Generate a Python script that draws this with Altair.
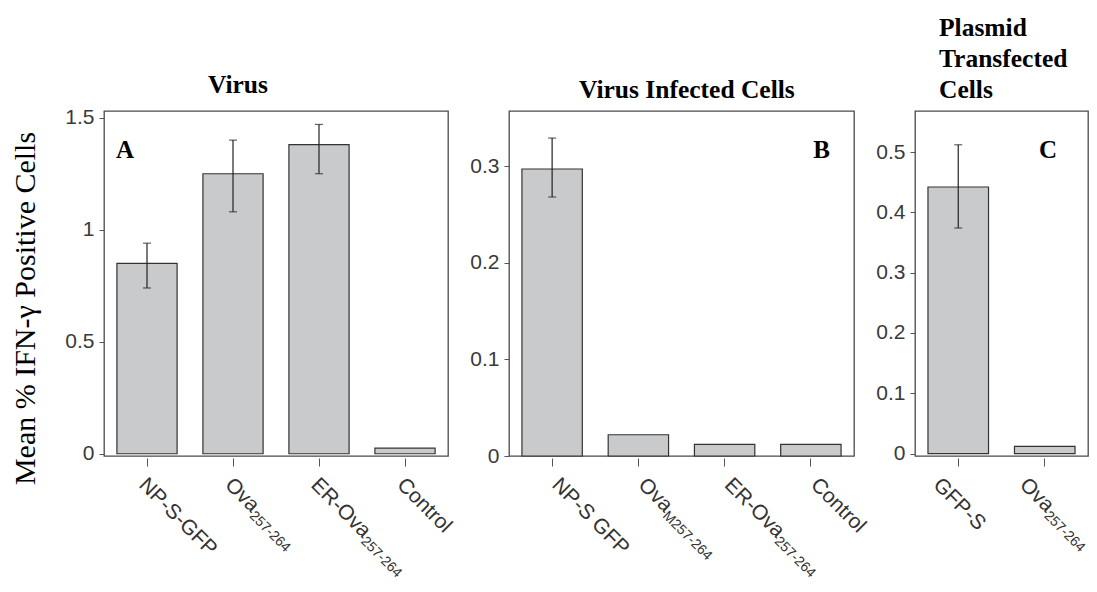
import altair as alt
import pandas as pd

# ---------------- data ----------------
# Panel A: Virus
a_cats = ["NP-S-GFP", "Ova257-264", "ER-Ova257-264", "Control"]
a_main = ["NP-S-GFP", "Ova", "ER-Ova", "Control"]
a_sub = ["", "257-264", "257-264", ""]
a_mean = [0.85, 1.25, 1.38, 0.025]
a_low = [0.74, 1.08, 1.25, None]
a_high = [0.94, 1.40, 1.47, None]

# Panel B: Virus Infected Cells
b_cats = ["NP-S GFP", "OvaM257-264", "ER-Ova257-264", "Control"]
b_main = ["NP-S GFP", "Ova", "ER-Ova", "Control"]
b_sub = ["", "M257-264", "257-264", ""]
b_mean = [0.297, 0.022, 0.012, 0.012]
b_low = [0.268, None, None, None]
b_high = [0.329, None, None, None]

# Panel C: Plasmid Transfected Cells
c_cats = ["GFP-S", "Ova257-264"]
c_main = ["GFP-S", "Ova"]
c_sub = ["", "257-264"]
c_mean = [0.442, 0.012]
c_low = [0.374, None]
c_high = [0.512, None]

a_ticks = [0, 0.5, 1, 1.5]
b_ticks = [0, 0.1, 0.2, 0.3]
c_ticks = [0, 0.1, 0.2, 0.3, 0.4, 0.5]

SERIF = "Liberation Serif"
SANS = "Liberation Sans"
BAR_FILL = "#c9cacc"
DARK = "#333333"
H = 345


def frame(cats, main, sub, mean, low, high):
    return pd.DataFrame({"cat": cats, "main": main, "sub": sub,
                         "mean": mean, "low": low, "high": high})


def panel(df, width, domain, ticks, title, letter, letter_x, letter_align,
          lab_xoff, lab_y, ytitle=None):
    base = alt.Chart(df)
    order = list(df["cat"])
    xenc = alt.X("cat:N", sort=order, title=None,
                 scale=alt.Scale(paddingInner=0.3, paddingOuter=0.15),
                 axis=alt.Axis(labels=False, domain=False, tickSize=8, offset=2,
                               tickColor="#555555", tickWidth=1))
    axis_kw = dict(values=ticks, labelExpr="'' + datum.value", grid=False,
                   domain=False, tickSize=5, tickColor="#555555",
                   labelFont=SANS, labelFontSize=21, labelColor="#3a3a3a",
                   labelPadding=5)
    if ytitle:
        axis_kw.update(title=ytitle, titleFont=SERIF, titleFontSize=30,
                       titleFontWeight="normal", titleColor="black",
                       titleX=-64, titleY=197)
    yenc = alt.Y("mean:Q", scale=alt.Scale(domain=domain, nice=False, zero=False),
                 axis=alt.Axis(**axis_kw), title=ytitle if ytitle else None)

    bars = base.mark_bar(fill=BAR_FILL, stroke=DARK, strokeWidth=1.2).encode(
        x=xenc, y=yenc, y2=alt.datum(0))
    err = base.transform_filter("isValid(datum.low)")
    rule = err.mark_rule(color="#222222", strokeWidth=1.2).encode(
        x=alt.X("cat:N", sort=order), y="low:Q", y2="high:Q")
    cap_lo = err.mark_tick(color="#222222", thickness=1.2, size=8).encode(
        x=alt.X("cat:N", sort=order), y="low:Q")
    cap_hi = err.mark_tick(color="#222222", thickness=1.2, size=8).encode(
        x=alt.X("cat:N", sort=order), y="high:Q")

    lab = base.mark_text(angle=45, align="left", baseline="top", font=SANS,
                         fontSize=21, color="#333333", xOffset=lab_xoff).encode(
        x=alt.X("cat:N", sort=order), y=alt.value(lab_y), text="main:N")
    sub_ova = base.transform_filter("datum.main == 'Ova'").mark_text(
        angle=45, align="left", baseline="top", font=SANS, fontSize=14,
        color="#333333", xOffset=lab_xoff, dx=39, dy=10).encode(
        x=alt.X("cat:N", sort=order), y=alt.value(lab_y), text="sub:N")
    sub_er = base.transform_filter("datum.main == 'ER-Ova'").mark_text(
        angle=45, align="left", baseline="top", font=SANS, fontSize=14,
        color="#333333", xOffset=lab_xoff, dx=75, dy=10).encode(
        x=alt.X("cat:N", sort=order), y=alt.value(lab_y), text="sub:N")

    let = alt.Chart(pd.DataFrame({"t": [letter]})).mark_text(
        font=SERIF, fontSize=25, fontWeight="bold", color="black",
        align=letter_align, baseline="alphabetic").encode(
        x=alt.value(letter_x), y=alt.value(47), text="t:N")

    return alt.layer(bars, rule, cap_lo, cap_hi, lab, sub_ova, sub_er, let).properties(
        width=width, height=H, title=title)


tA = alt.TitleParams("Virus", font=SERIF, fontSize=25.5, fontWeight="bold",
                     color="black", anchor="start", frame="group", dx=104,
                     offset=8)
tB = alt.TitleParams("Virus Infected Cells", font=SERIF, fontSize=25.5,
                     fontWeight="bold", color="black", anchor="start",
                     frame="group", dx=70, offset=8)
tC = alt.TitleParams(["Plasmid", "Transfected", "Cells"], font=SERIF,
                     fontSize=25.5, fontWeight="bold", color="black",
                     anchor="start", frame="group", dx=24, offset=8,
                     lineHeight=31)

LAB_Y = H + 18
pA = panel(frame(a_cats, a_main, a_sub, a_mean, a_low, a_high), 344,
           [-0.01, 1.53], a_ticks, tA, "A", 12, "left", 3, LAB_Y,
           ytitle="Mean % IFN-γ Positive Cells")
pB = panel(frame(b_cats, b_main, b_sub, b_mean, b_low, b_high), 345,
           [0, 0.357], b_ticks, tB, "B", 321, "right", 11, LAB_Y)
pC = panel(frame(c_cats, c_main, c_sub, c_mean, c_low, c_high), 173,
           [-0.004, 0.568], c_ticks, tC, "C", 124, "left", -14, LAB_Y)

chart = alt.hconcat(pA, pB, pC, spacing=61, bounds="flush").properties(
    padding={"left": 1, "top": 6, "right": 0, "bottom": 0}
).configure(background="white").configure_view(stroke="#4a4a4a",
                                               strokeWidth=1.3)

chart.save("out.html", embed_options={"renderer": "svg", "actions": False})
